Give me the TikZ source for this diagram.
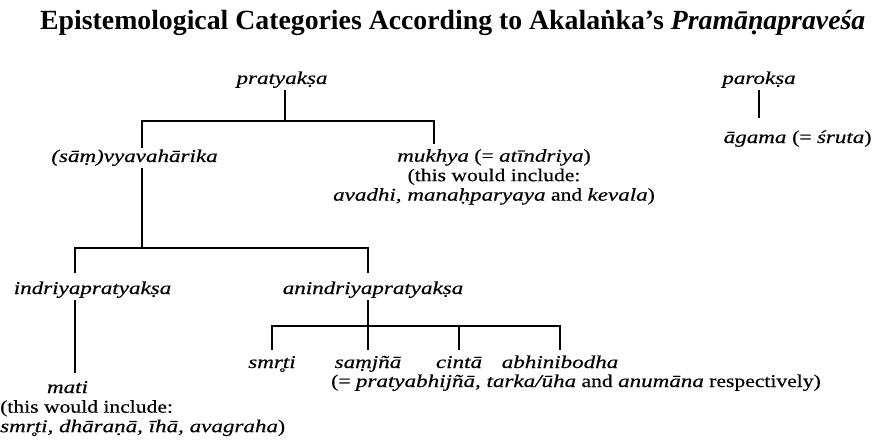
\documentclass[tikz,border=0pt]{standalone}
\usepackage{fontspec}
\setmainfont{Liberation Serif}[UprightFeatures={FakeStretch=1.2, FakeBold=0.4}, ItalicFeatures={FakeStretch=1.28, FakeBold=0.4}]
\usepackage{tikz}

\begin{document}
\begin{tikzpicture}[
    x=1pt, y=-1pt,
    font=\fontsize{18}{19.5}\selectfont,
    term/.style={font=\fontsize{18}{19.5}\selectfont\itshape, inner sep=1.5pt, text height=12pt, text depth=4.5pt, anchor=base},
    gloss/.style={inner sep=0pt, anchor=north},
    branch/.style={draw=black, line width=2.4pt}
]
    \useasboundingbox (0,0) rectangle (889,441);

    % --- Titre ---
    \node[anchor=base west, inner sep=0pt] (title) at (40,30)
        {\resizebox{825pt}{!}{\bfseries Epistemological Categories According to Akalaṅka’s \textit{Pramāṇapraveśa}}};

    % --- Niveau 1 ---
    \node[term] (pratyaksa) at (282,84) {pratyakṣa};
    \node[term] (paroksa) at (759,84) {parokṣa};
    \node[term, anchor=base west] (agama) at (722,143) {āgama \normalfont(= \itshape śruta\normalfont)};

    % --- Niveau 2 ---
    \node[term] (vyavahara) at (134.5,162) {(sāṃ)vyavahārika};
    \node[gloss, align=center] (mukhya) at (494,149) {
        \textit{mukhya} (= \textit{atīndriya})\\
        (this would include:\\
        \textit{avadhi, manaḥparyaya} and \textit{kevala})
    };

    % --- Niveau 3 ---
    \node[term] (indriya) at (92.5,294) {indriyapratyakṣa};
    \node[term] (anindriya) at (373,294) {anindriyapratyakṣa};

    % --- Niveau 4 ---
    \node[term] (mati) at (67.5,393) {mati};
    \node[gloss, anchor=north west, align=left] (matinote) at (0,400) {
        (this would include:\\
        \textit{smr̥ti, dhāraṇā, īhā, avagraha})
    };
    \node[term] (smrti) at (272,368) {smr̥ti};
    \node[term, anchor=base west] (samjna) at (333,368) {saṃjñā};
    \node[term] (cinta) at (459,368) {cintā};
    \node[term] (abhini) at (560,368) {abhinibodha};
    \node[inner sep=0pt, anchor=base west] (resp) at (331,387)
        {(= \textit{pratyabhijñā, tarka/ūha} and \textit{anumāna} respectively)};

    % --- Branches ---
    \draw[branch] ([xshift=3pt]pratyaksa.south) -- ++(0,31) -| ([xshift=7.5pt]vyavahara.north);
    \draw[branch, shorten >=5pt] ([xshift=3pt]pratyaksa.south) -- ++(0,31) -| ([xshift=-60pt]mukhya.north);

    \draw[branch, shorten >=11pt] (paroksa.south) -- (paroksa.south |- agama.north);

    \draw[branch, shorten >=7pt] ([xshift=7.5pt]vyavahara.south) -- ++(0,80) -| ([xshift=-17.5pt]indriya.north);
    \draw[branch, shorten >=7pt] ([xshift=7.5pt]vyavahara.south) -- ++(0,80) -| ([xshift=-5pt]anindriya.north);

    \draw[branch, shorten >=6pt] ([xshift=-17.5pt]indriya.south) -- ([xshift=7.5pt]mati.north);

    \draw[branch, shorten >=4pt] ([xshift=-5pt]anindriya.south) -- ++(0,26) -| (smrti.north);
    \draw[branch, shorten >=4pt] ([xshift=-5pt]anindriya.south) -- ([xshift=-5pt]anindriya.south |- samjna.north);
    \draw[branch, shorten >=4pt] ([xshift=-5pt]anindriya.south) -- ++(0,26) -| (cinta.north);
    \draw[branch, shorten >=4pt] ([xshift=-5pt]anindriya.south) -- ++(0,26) -| (abhini.north);

\end{tikzpicture}
\end{document}
